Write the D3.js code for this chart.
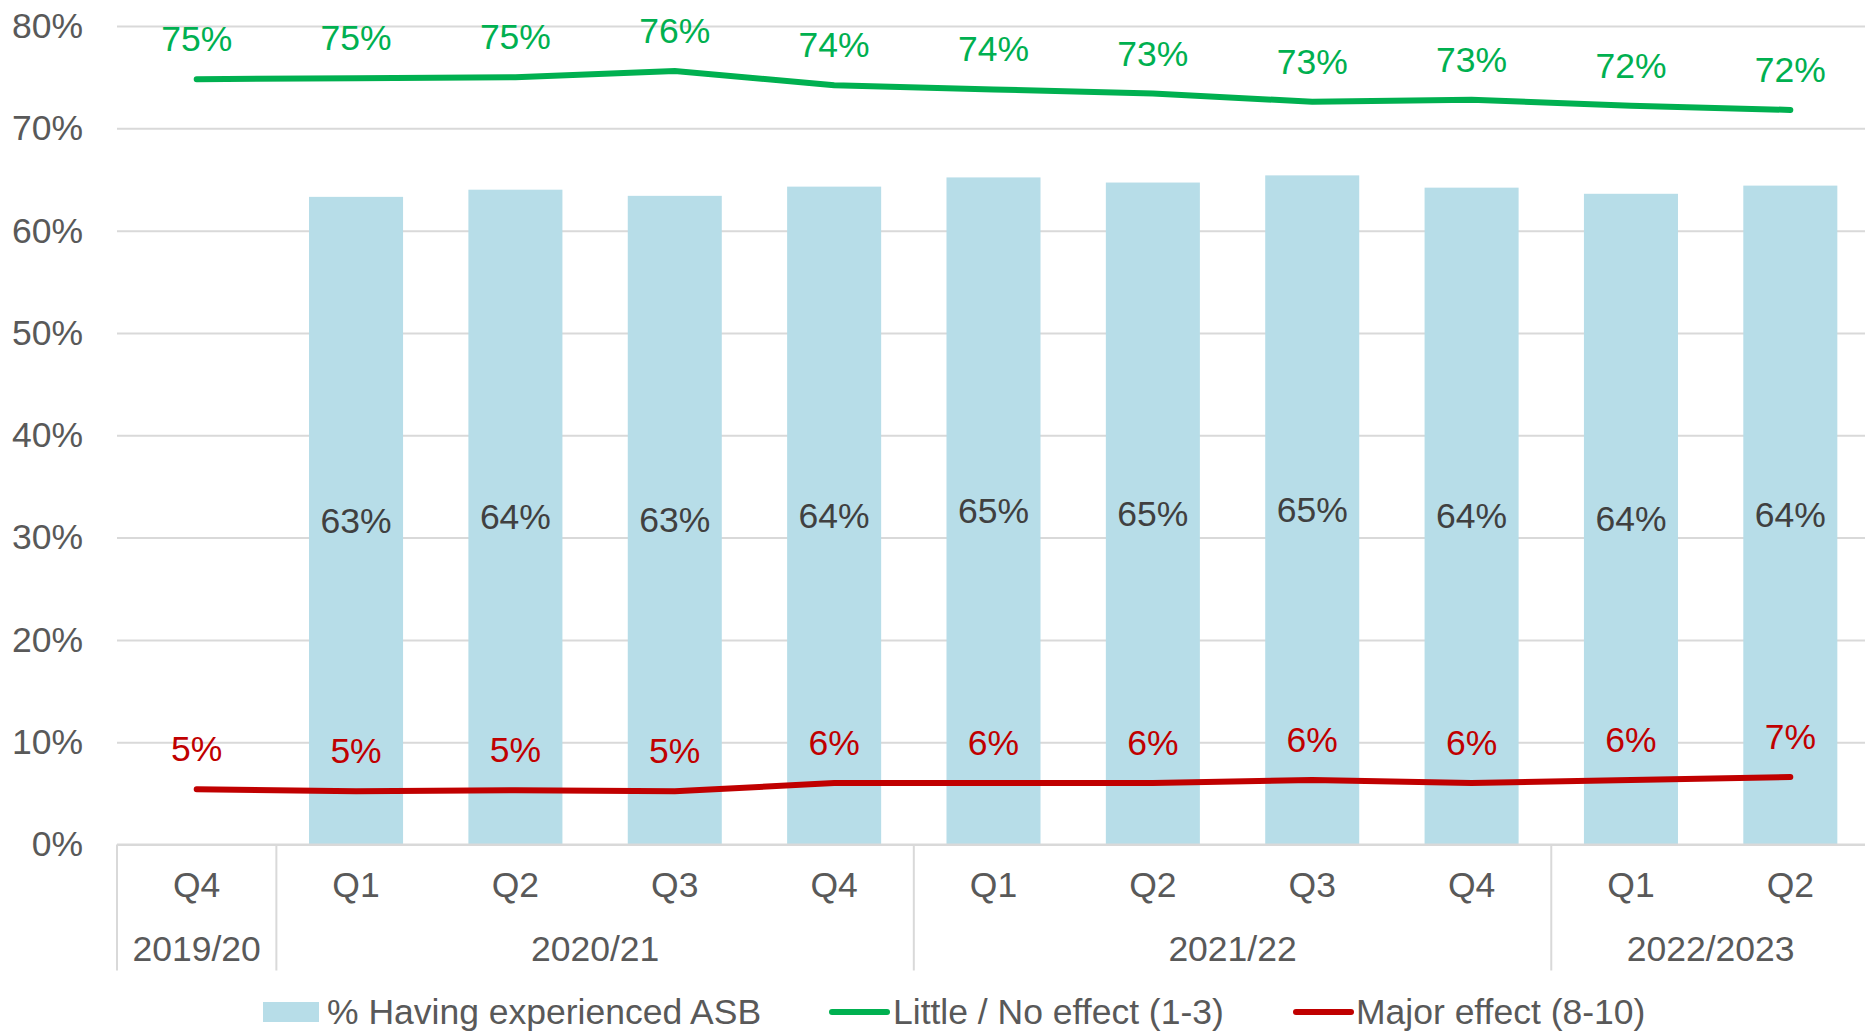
<!DOCTYPE html>
<html>
<head>
<meta charset="utf-8">
<script src="https://cdn.jsdelivr.net/npm/d3@7"></script>
<style>
  body { margin: 0; background: #fff; }
  svg { display: block; font-family: "Liberation Sans", Arial, sans-serif; }
</style>
</head>
<body>
<script>
// chart values
const quarters = ["Q4", "Q1", "Q2", "Q3", "Q4", "Q1", "Q2", "Q3", "Q4", "Q1", "Q2"];
const yearLabels = ["2019/20", "2020/21", "2021/22", "2022/2023"];
const yearCounts = [1, 4, 4, 2];
const asb = [null, 63.3, 64.0, 63.4, 64.3, 65.2, 64.7, 65.4, 64.2, 63.6, 64.4];
const littleEffect = [74.8, 74.9, 75.0, 75.6, 74.2, 73.8, 73.4, 72.6, 72.8, 72.2, 71.8];
const majorEffect = [5.4, 5.2, 5.3, 5.2, 6.0, 6.0, 6.0, 6.3, 6.0, 6.3, 6.6];
const yTicks = [0, 10, 20, 30, 40, 50, 60, 70, 80];
const legendNames = ["% Having experienced ASB", "Little / No effect (1-3)", "Major effect (8-10)"];

const W = 1865, H = 1031;
const mLeft = 117, mRight = 1870, mTop = 26, mBottom = 844.5;
const fontSize = 35.5;
const grey = "#595959", gridCol = "#d9d9d9";
const barCol = "#b7dde8", greenCol = "#00b050", redCol = "#c00000";

const keys = quarters.map((q, i) => i);
const x = d3.scaleBand().domain(keys).range([mLeft, mRight]).paddingInner(0.41).paddingOuter(0.205);
const y = d3.scaleLinear().domain([0, 80]).range([mBottom, mTop]);
const cx = i => x(i) + x.bandwidth() / 2;

const svg = d3.select("body").append("svg").attr("width", W).attr("height", H);

// y axis + gridlines
const yAxis = svg.append("g").attr("transform", `translate(${mLeft},0)`)
    .call(d3.axisLeft(y).tickValues(yTicks).tickFormat(d => d + "%").tickSize(-(mRight - mLeft)).tickPadding(34));
yAxis.select(".domain").remove();
yAxis.selectAll(".tick line").attr("stroke", gridCol).attr("stroke-width", 2);
yAxis.selectAll(".tick text").attr("fill", grey).style("font-size", fontSize + "px").attr("font-family", null);

// bars
svg.append("g").selectAll("rect").data(keys.filter(i => asb[i] != null)).join("rect")
    .attr("x", i => x(i)).attr("width", x.bandwidth())
    .attr("y", i => y(asb[i])).attr("height", i => y(0) - y(asb[i]))
    .attr("fill", barCol);

// x axis: baseline, quarter labels, year groups
svg.append("line").attr("x1", mLeft).attr("x2", mRight).attr("y1", mBottom).attr("y2", mBottom)
    .attr("stroke", gridCol).attr("stroke-width", 2);

const xAxis = svg.append("g").attr("transform", `translate(0,${mBottom})`)
    .call(d3.axisBottom(x).tickFormat(i => quarters[i]).tickSize(0).tickPadding(27));
xAxis.select(".domain").remove();
xAxis.selectAll(".tick text").attr("fill", grey).style("font-size", fontSize + "px").attr("font-family", null);

let start = 0;
const groups = yearLabels.map((name, k) => {
  const g = { name, from: start, to: start + yearCounts[k] - 1 };
  start += yearCounts[k];
  return g;
});
const sep = i => x(i) - x.step() * x.paddingInner() / 2;
svg.append("g").selectAll("line").data(groups).join("line")
    .attr("x1", g => sep(g.from)).attr("x2", g => sep(g.from))
    .attr("y1", mBottom).attr("y2", mBottom + 126)
    .attr("stroke", gridCol).attr("stroke-width", 2);
svg.append("g").selectAll("text").data(groups).join("text")
    .attr("x", g => (cx(g.from) + cx(g.to)) / 2)
    .attr("y", mBottom + 116)
    .attr("text-anchor", "middle").attr("fill", grey).style("font-size", fontSize + "px")
    .text(g => g.name);

// lines
const line = d3.line().x((d, i) => cx(i)).y(d => y(d));
svg.append("path").datum(littleEffect).attr("d", line)
    .attr("fill", "none").attr("stroke", greenCol).attr("stroke-width", 6).attr("stroke-linecap", "round");
svg.append("path").datum(majorEffect).attr("d", line)
    .attr("fill", "none").attr("stroke", redCol).attr("stroke-width", 6).attr("stroke-linecap", "round");

// data labels
const fmt = v => Math.round(v) + "%";
svg.append("g").selectAll("text").data(keys.filter(i => asb[i] != null)).join("text")
    .attr("x", cx).attr("y", i => (y(asb[i]) + y(0)) / 2 + 12)
    .attr("text-anchor", "middle").attr("fill", "#404040").style("font-size", fontSize + "px")
    .text(i => fmt(asb[i]));
svg.append("g").selectAll("text").data(littleEffect).join("text")
    .attr("x", (d, i) => cx(i)).attr("y", d => y(d) - 28)
    .attr("text-anchor", "middle").attr("fill", greenCol).style("font-size", fontSize + "px")
    .text(fmt);
svg.append("g").selectAll("text").data(majorEffect).join("text")
    .attr("x", (d, i) => cx(i)).attr("y", d => y(d) - 28)
    .attr("text-anchor", "middle").attr("fill", redCol).style("font-size", fontSize + "px")
    .text(fmt);

// legend
const ly = 1012;
const legend = svg.append("g");
legend.append("rect").attr("x", 263).attr("y", ly - 10).attr("width", 56).attr("height", 20).attr("fill", barCol);
legend.append("line").attr("x1", 832).attr("x2", 887).attr("y1", ly).attr("y2", ly)
    .attr("stroke", greenCol).attr("stroke-width", 6).attr("stroke-linecap", "round");
legend.append("line").attr("x1", 1296).attr("x2", 1351).attr("y1", ly).attr("y2", ly)
    .attr("stroke", redCol).attr("stroke-width", 6).attr("stroke-linecap", "round");
legend.selectAll("text").data(legendNames).join("text")
    .attr("x", (d, i) => [327, 893, 1356][i]).attr("y", ly + 12)
    .attr("fill", grey).style("font-size", fontSize + "px")
    .text(d => d);
</script>
</body>
</html>
